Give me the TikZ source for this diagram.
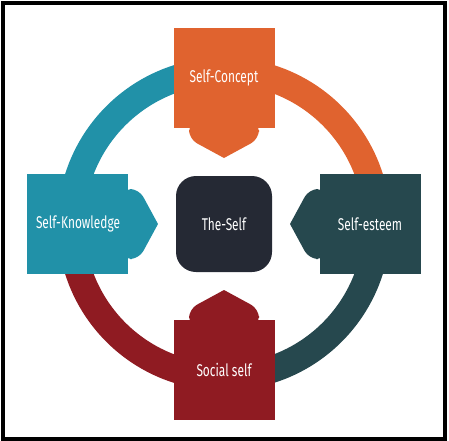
\documentclass[tikz,border=0pt]{standalone}
\usepackage{fontspec}
\setmainfont[FakeStretch=0.7]{Fira Sans}
\usetikzlibrary{positioning,backgrounds}
\definecolor{ConceptOrange}{HTML}{E0632F}
\definecolor{KnowTeal}{HTML}{2191A8}
\definecolor{EsteemSlate}{HTML}{26484E}
\definecolor{SocialRed}{HTML}{8F1B22}
\definecolor{CoreDark}{HTML}{252934}

\begin{document}
\begin{tikzpicture}[x=1pt, y=1pt, node distance=146pt, every node/.style={font=\fontsize{17}{20}\selectfont, text=white}]
  \tikzstyle{part}=[rectangle, minimum width=101pt, minimum height=100pt, inner sep=0pt]
  \tikzstyle{ring}=[line width=27pt]
  \useasboundingbox (-224,-216) rectangle (225,224);
  \draw[line width=4pt] (-221,-215) rectangle (221,221);
  \node[fill=CoreDark, rounded corners=20pt, minimum size=96pt, inner sep=0pt] (self) at (0,0) {The-Self};
  \node[part, fill=ConceptOrange, above of=self] (concept) {Self-Concept};
  \node[part, fill=KnowTeal, left of=self] (knowledge) {Self-Knowledge};
  \node[part, fill=EsteemSlate, right of=self] (esteem) {Self-esteem};
  \node[part, fill=SocialRed, below of=self] (social) {Social self};
  \begin{scope}[on background layer]
    % ring quarters, each running clockwise from its own box
    \draw[ring, KnowTeal] ([shift={(180:153pt)}]self.center) arc[start angle=180, end angle=90, radius=153pt];
    \draw[ring, ConceptOrange] ([shift={(90:153pt)}]self.center) arc[start angle=90, end angle=0, radius=153pt];
    \draw[ring, EsteemSlate] ([shift={(0:153pt)}]self.center) arc[start angle=0, end angle=-90, radius=153pt];
    \draw[ring, SocialRed] ([shift={(-90:153pt)}]self.center) arc[start angle=-90, end angle=-180, radius=153pt];
    % pointers towards the middle
    \foreach \nm/\ang/\col in {concept/-90/ConceptOrange, knowledge/0/KnowTeal, esteem/180/EsteemSlate, social/90/SocialRed}
      \fill[\col, rounded corners=9pt, shift={(\nm.center)}, rotate=\ang] (80,0) -- (61,35) -- (45,35) -- (45,-35) -- (61,-35) -- (80,0);
  \end{scope}
\end{tikzpicture}
\end{document}
